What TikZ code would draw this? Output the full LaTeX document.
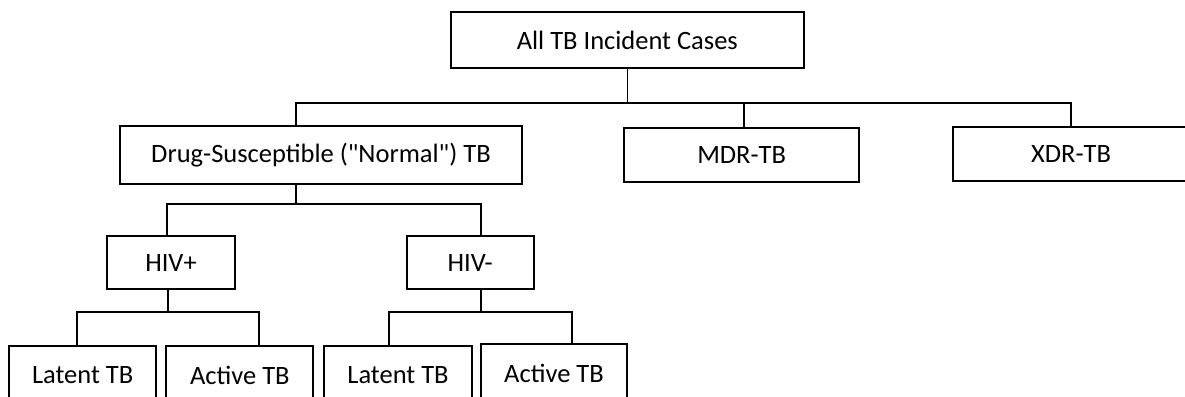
\documentclass[tikz,border=0pt]{standalone}
\usepackage{fontspec}
\setmainfont{Carlito}
\begin{document}
\begin{tikzpicture}[x=1pt,y=-1pt,
  box/.style={draw, line width=1.7pt, inner sep=0pt, align=center, font=\fontsize{26.5}{30}\selectfont},
  conn/.style={line width=1.7pt}]
\useasboundingbox (0,0) rectangle (1185,396);
\fill[white] (0,0) rectangle (1185,396);
\clip (0,0) rectangle (1185,396);
% nodes
\node[box, minimum width=353.3pt, minimum height=56.3pt] (top) at (627.35,40.15) {All TB Incident Cases};
\node[box, minimum width=402pt, minimum height=58.3pt] (ds) at (321,154.85) {Drug-Susceptible (\textquotedbl Normal\textquotedbl) TB};
\node[box, minimum width=235.3pt, minimum height=54pt] (mdr) at (741.65,154.7) {MDR-TB};
\node[box, minimum width=236pt, minimum height=54.3pt] (xdr) at (1071,153.85) {XDR-TB};
\node[box, minimum width=127.4pt, minimum height=53.6pt] (hivp) at (171,262.5) {HIV+};
\node[box, minimum width=127pt, minimum height=53.6pt] (hivn) at (470.2,262.5) {HIV-};
\node[box, minimum width=146.7pt, minimum height=58pt] (lat1) at (82.65,375) {Latent TB};
\node[box, minimum width=147pt, minimum height=58pt] (act1) at (239.8,375) {Active TB};
\node[box, minimum width=147.4pt, minimum height=58pt] (lat2) at (398,375) {Latent TB};
\node[box, minimum width=146.6pt, minimum height=58pt] (act2) at (554,373) {Active TB};
% junctions
\coordinate (j1) at (627.35,103.3);
\coordinate (j2) at (295.7,204);
\coordinate (j3) at (167.7,312.3);
\coordinate (j4) at (481,312.3);
% connectors
\draw[conn] (top.south) -- (j1);
\draw[conn] (j1) -| ([xshift=-25.3pt]ds.north);
\draw[conn] (j1) -| ([xshift=2.35pt]mdr.north);
\draw[conn] (j1) -| (xdr.north);
\draw[conn] ([xshift=-25.3pt]ds.south) -- (j2);
\draw[conn] (j2) -| ([xshift=-4.3pt]hivp.north);
\draw[conn] (j2) -| ([xshift=10.8pt]hivn.north);
\draw[conn] ([xshift=-3.3pt]hivp.south) -- (j3);
\draw[conn] (j3) -| ([xshift=-5.95pt]lat1.north);
\draw[conn] (j3) -| ([xshift=19.2pt]act1.north);
\draw[conn] ([xshift=10.8pt]hivn.south) -- (j4);
\draw[conn] (j4) -| ([xshift=-8.7pt]lat2.north);
\draw[conn] (j4) -| ([xshift=18.3pt]act2.north);
\end{tikzpicture}
\end{document}
